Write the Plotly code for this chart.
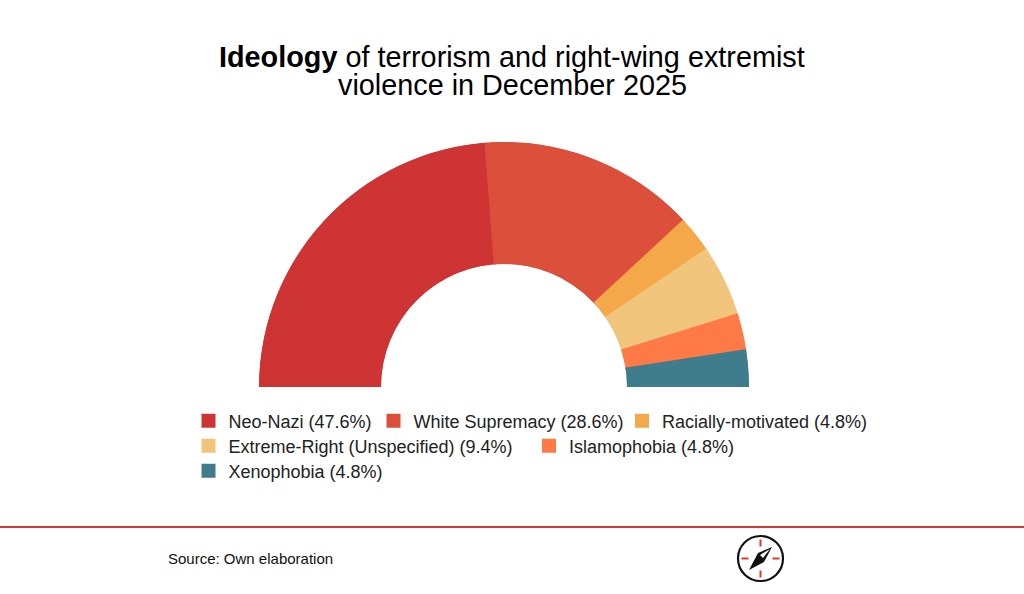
import plotly.graph_objects as go

labels = ["Neo-Nazi", "White Supremacy", "Racially-motivated",
          "Extreme-Right (Unspecified)", "Islamophobia", "Xenophobia"]
shares = [47.6, 28.6, 4.8, 9.4, 4.8, 4.8]
colors = ["#CF3434", "#DB4F3B", "#F4A84A", "#F2C57C", "#FF7A47", "#3F7D8C"]
legend_ids = ["legend", "legend2", "legend3", "legend4", "legend5", "legend6"]
legend_left = [188.5, 373.5, 622, 188.5, 529, 188.5]
legend_mid = [421, 421, 421, 446, 446, 471]

W, H = 1024, 594


def px(x):
    return x / W


def py(y):
    return 1 - y / H


fig = go.Figure()
start = 0.0
for lab, val, col, leg in zip(labels, shares, colors, legend_ids):
    span = val * 1.8
    fig.add_trace(go.Barpolar(
        r=[1], theta=[start + span / 2], width=[span], base=0,
        name=f"{lab} ({val}%)", legend=leg, showlegend=True,
        marker=dict(color=col, line=dict(width=2, color=col)),
        hoverinfo="name",
    ))
    start += span

shapes = [
    dict(type="line", xref="paper", yref="paper", x0=0, x1=1, y0=py(527), y1=py(527),
         line=dict(color="#CF3A36", width=2)),
    dict(type="circle", xref="paper", yref="paper", x0=px(738), x1=px(783), y0=py(536), y1=py(581),
         line=dict(color="#111111", width=2.2), fillcolor="white"),
]
cx, cy = 760.5, 558.5
for x0, y0, x1, y1 in [(cx, cy - 19, cx, cy - 12), (cx, cy + 12, cx, cy + 19),
                       (cx - 19, cy, cx - 12, cy), (cx + 12, cy, cx + 19, cy)]:
    shapes.append(dict(type="line", xref="paper", yref="paper", x0=px(x0), x1=px(x1), y0=py(y0), y1=py(y1),
                       line=dict(color="#E8322C", width=2)))


def poly(pts):
    return "M" + " L".join(f"{px(a):.5f},{py(b):.5f}" for a, b in pts) + " Z"


shapes.append(dict(type="path", xref="paper", yref="paper",
                   path=poly([(749, 570), (758, 553), (772, 547), (764, 562)]),
                   fillcolor="#111111", line=dict(width=0)))
shapes.append(dict(type="path", xref="paper", yref="paper",
                   path=poly([(770, 549), (760, 555), (763, 558)]),
                   fillcolor="white", line=dict(width=0)))


R = 245
layout_legends = {
    leg: dict(
        orientation="h", x=px(left), xanchor="left", y=py(mid), yanchor="middle",
        font=dict(size=18, color="#222222"), itemclick=False, itemdoubleclick=False,
        bgcolor="rgba(0,0,0,0)",
    )
    for leg, left, mid in zip(legend_ids, legend_left, legend_mid)
}
fig.update_layout(
    width=W, height=H,
    margin=dict(l=0, r=0, t=0, b=0),
    paper_bgcolor="white",
    showlegend=True,
    font=dict(family="Liberation Sans, Arial, sans-serif", color="#111111"),
    polar=dict(
        domain=dict(x=[px(504 - R), px(504 + R)], y=[py(387), py(387 - R)]),
        sector=[0, 180],
        hole=0.502,
        bgcolor="white",
        radialaxis=dict(visible=False, range=[0, 1]),
        angularaxis=dict(visible=False, direction="clockwise", rotation=180),
        bargap=0,
    ),
    shapes=shapes,
    annotations=[
        dict(xref="paper", yref="paper", x=0.5, y=py(57), xanchor="center", yanchor="middle",
             showarrow=False, text="<b>Ideology</b> of terrorism and right-wing extremist",
             font=dict(size=28.8, color="#000000")),
        dict(xref="paper", yref="paper", x=0.5, y=py(85), xanchor="center", yanchor="middle",
             showarrow=False, text="violence in December 2025",
             font=dict(size=28.8, color="#000000")),
        dict(xref="paper", yref="paper", x=px(166), y=py(558), xanchor="left", yanchor="middle",
             showarrow=False, text="Source: Own elaboration", font=dict(size=15, color="#111111")),
    ],
    **layout_legends,
)
fig.write_html("out.html", config=dict(displayModeBar=False),
               post_script="document.body.style.margin='0';document.body.style.overflow='hidden';")
